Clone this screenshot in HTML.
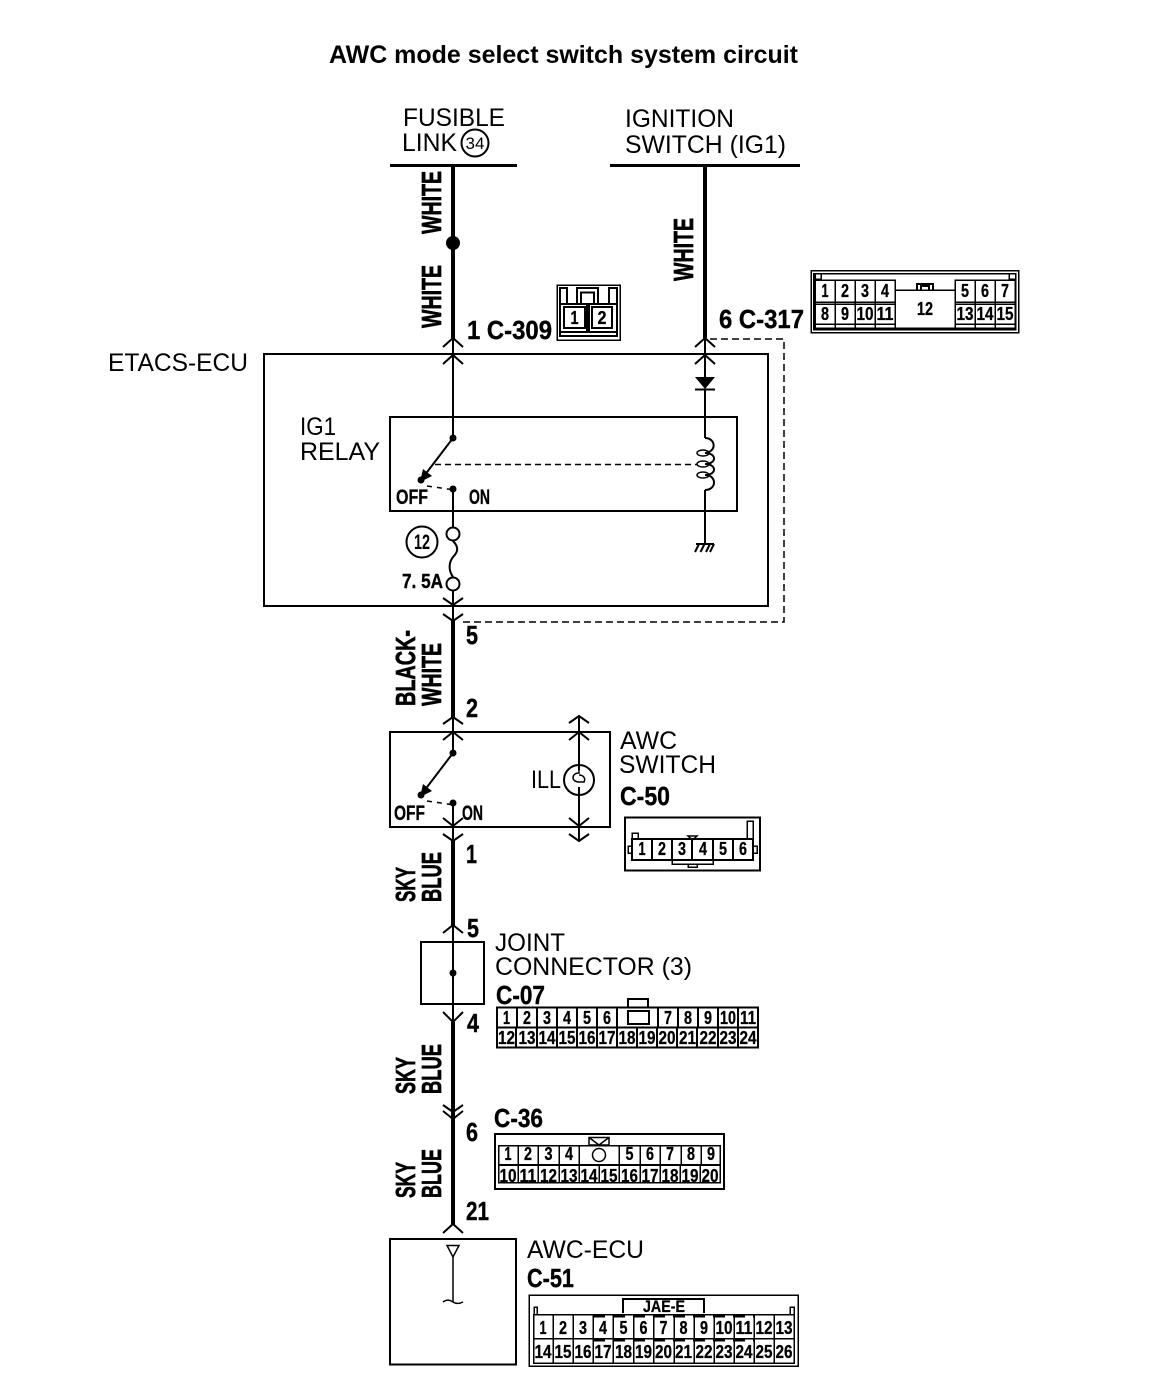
<!DOCTYPE html>
<html><head><meta charset="utf-8"><title>AWC mode select switch system circuit</title>
<style>
html,body{margin:0;padding:0;background:#fff}
svg{display:block}
text{font-family:"Liberation Sans",sans-serif;fill:#000}
.r{font-size:25px}
.b{font-weight:bold;font-size:26px;stroke:#000;stroke-width:.4}
.w{font-weight:bold;font-size:28px;stroke:#000;stroke-width:.7}
.c{font-weight:bold;font-size:18px;text-anchor:middle;stroke:#000;stroke-width:.3}
.l{fill:none;stroke:#000;stroke-width:2}
.t{fill:none;stroke:#000;stroke-width:1.5}
.k{fill:none;stroke:#000;stroke-width:4}
.x{shape-rendering:crispEdges}
</style></head><body>
<svg width="1152" height="1396" viewBox="0 0 1152 1396" xmlns="http://www.w3.org/2000/svg">
<rect width="1152" height="1396" fill="#fff"/>
<text x="329" y="63" font-weight="bold" font-size="25" textLength="469" lengthAdjust="spacingAndGlyphs">AWC mode select switch system circuit</text>

<!-- top sources -->
<text class="r" x="403" y="126" textLength="102" lengthAdjust="spacingAndGlyphs">FUSIBLE</text>
<text class="r" x="402" y="151" textLength="55" lengthAdjust="spacingAndGlyphs">LINK</text>
<circle cx="475" cy="143" r="13.5" class="l"/>
<text x="475" y="149" font-size="17" text-anchor="middle">34</text>
<text class="r" x="625" y="127" textLength="109" lengthAdjust="spacingAndGlyphs">IGNITION</text>
<text class="r" x="625" y="153" textLength="161" lengthAdjust="spacingAndGlyphs">SWITCH (IG1)</text>
<g class="x"><rect x="390" y="164" width="127" height="3"/><rect x="610" y="164" width="190" height="3"/></g>
<path class="k" d="M453 165V338M705 165V338"/>
<circle cx="453" cy="243" r="7"/>

<!-- vertical wire labels -->
<text class="w" transform="translate(441,234) rotate(-90)" textLength="63" lengthAdjust="spacingAndGlyphs">WHITE</text>
<text class="w" transform="translate(441,328) rotate(-90)" textLength="63" lengthAdjust="spacingAndGlyphs">WHITE</text>
<text class="w" transform="translate(693,281) rotate(-90)" textLength="63" lengthAdjust="spacingAndGlyphs">WHITE</text>
<text class="w" transform="translate(415,706) rotate(-90)" textLength="76" lengthAdjust="spacingAndGlyphs">BLACK-</text>
<text class="w" transform="translate(441,706) rotate(-90)" textLength="63" lengthAdjust="spacingAndGlyphs">WHITE</text>
<text class="w" transform="translate(415,902) rotate(-90)" textLength="35" lengthAdjust="spacingAndGlyphs">SKY</text>
<text class="w" transform="translate(441,902) rotate(-90)" textLength="50" lengthAdjust="spacingAndGlyphs">BLUE</text>
<text class="w" transform="translate(415,1094) rotate(-90)" textLength="37" lengthAdjust="spacingAndGlyphs">SKY</text>
<text class="w" transform="translate(441,1094) rotate(-90)" textLength="50" lengthAdjust="spacingAndGlyphs">BLUE</text>
<text class="w" transform="translate(415,1198) rotate(-90)" textLength="36" lengthAdjust="spacingAndGlyphs">SKY</text>
<text class="w" transform="translate(441,1198) rotate(-90)" textLength="49" lengthAdjust="spacingAndGlyphs">BLUE</text>

<!-- terminal labels -->
<text class="b" x="467" y="339" textLength="85" lengthAdjust="spacingAndGlyphs">1 C-309</text>
<text class="b" x="719" y="328" textLength="85" lengthAdjust="spacingAndGlyphs">6 C-317</text>
<text class="b" x="466" y="644" textLength="12" lengthAdjust="spacingAndGlyphs">5</text>
<text class="b" x="466" y="717" textLength="12" lengthAdjust="spacingAndGlyphs">2</text>
<text class="b" x="466" y="863" textLength="11" lengthAdjust="spacingAndGlyphs">1</text>
<text class="b" x="467" y="937" textLength="12" lengthAdjust="spacingAndGlyphs">5</text>
<text class="b" x="467" y="1032" textLength="12" lengthAdjust="spacingAndGlyphs">4</text>
<text class="b" x="466" y="1141" textLength="12" lengthAdjust="spacingAndGlyphs">6</text>
<text class="b" x="466" y="1220" textLength="23" lengthAdjust="spacingAndGlyphs">21</text>

<!-- ETACS -->
<text class="r" x="108" y="371" textLength="140" lengthAdjust="spacingAndGlyphs">ETACS-ECU</text>
<rect x="264" y="354" width="504" height="252" class="l x"/>
<rect x="390" y="417" width="347" height="94" class="l x"/>
<text class="r" x="300" y="435" textLength="36" lengthAdjust="spacingAndGlyphs">IG1</text>
<text class="r" x="300" y="460" textLength="80" lengthAdjust="spacingAndGlyphs">RELAY</text>

<!-- chevrons top ETACS -->
<path class="l" d="M443 347L453 338L463 347M443 364L453 355L463 364M695 347L705 338L715 347M695 364L705 355L715 364"/>
<path class="l" d="M453 338V438M453 489V527M705 338V377M705 389V438M705 490V545"/>
<path d="M695 377H715L705 389Z"/><path class="l" d="M695 389.500H715"/>
<circle cx="453" cy="438" r="3.500"/>
<path class="l" d="M453 438L421 480"/><path d="M420 482L423 469L432 476Z"/><circle cx="421" cy="480" r="3.500"/>
<path class="t" stroke-dasharray="5 5" d="M427 486L455 490"/>
<circle cx="453" cy="489" r="3.500"/>
<text class="c" style="font-size:21px;text-anchor:start" x="396" y="504" textLength="32" lengthAdjust="spacingAndGlyphs">OFF</text>
<text class="c" style="font-size:21px;text-anchor:start" x="469" y="504" textLength="21" lengthAdjust="spacingAndGlyphs">ON</text>
<path class="t" stroke-dasharray="6 4" d="M435 464.500H697"/>
<!-- coil -->
<path class="l" d="M705 438C716 438 717 452 705 453M705 453C717 453 717 464 705 464M705 464C717 464 717 475 705 475M705 475C717 475 717 490 705 490"/>
<ellipse cx="703" cy="453" rx="6" ry="3" class="t"/><ellipse cx="703" cy="464" rx="6" ry="3" class="t"/><ellipse cx="703" cy="475" rx="6" ry="3" class="t"/>
<!-- ground -->
<path class="l" d="M696 544H714M699 544L695 552M704.500 544L700.500 552M710 544L706 552M714 544L710 552"/>
<!-- fuse -->
<circle cx="422" cy="542" r="15.500" class="l"/>
<text x="422" y="549" font-size="21" font-weight="bold" text-anchor="middle" textLength="16" lengthAdjust="spacingAndGlyphs">12</text>
<circle cx="453" cy="534" r="6.500" class="l"/>
<path class="l" d="M453 541C460 548 457 553 453 557C449 562 448 570 453 577"/>
<circle cx="453" cy="584" r="6.500" class="l"/>
<text class="b" style="font-size:20px" x="402" y="588" textLength="41" lengthAdjust="spacingAndGlyphs">7. 5A</text>
<path class="l" d="M453 591V621M443 598L453 605L463 598M443 614L453 621L463 614"/>
<path class="t" stroke-dasharray="7 4" d="M463 622H784V339H707"/>

<!-- black-white -->
<path class="k" d="M453 621V717"/>
<path class="l" d="M443 724L453 717L463 724M443 740L453 732L463 740M453 717V753"/>

<!-- AWC switch -->
<path class="l x" d="M390 732H610V827H390Z"/>
<circle cx="453" cy="753" r="3.500"/>
<path class="l" d="M453 753L421 795"/><path d="M420 797L423 784L432 791Z"/><circle cx="421" cy="795" r="3.500"/>
<path class="t" stroke-dasharray="5 5" d="M427 801L455 805"/>
<circle cx="453" cy="803" r="3.500"/>
<path class="l" d="M453 803V841M443 818L453 826L463 818M443 834L453 841L463 834"/>
<text class="c" style="font-size:21px;text-anchor:start" x="394" y="820" textLength="31" lengthAdjust="spacingAndGlyphs">OFF</text>
<text class="c" style="font-size:21px;text-anchor:start" x="462" y="820" textLength="21" lengthAdjust="spacingAndGlyphs">ON</text>
<path class="l" d="M569 723L579 716L589 723M569 740L579 732L589 740M579 716V770M579 787V841M569 818L579 826L589 818M569 834L579 841L589 834"/>
<circle cx="579" cy="780" r="15" class="l"/>
<path class="t" d="M579 765V773C571 773 571 782 579 782H584C586 778 583 775 579 775M579 787V795"/>
<text class="r" x="531" y="788" textLength="30" lengthAdjust="spacingAndGlyphs">ILL</text>
<text class="r" x="620" y="749" textLength="57" lengthAdjust="spacingAndGlyphs">AWC</text>
<text class="r" x="619" y="773" textLength="97" lengthAdjust="spacingAndGlyphs">SWITCH</text>
<text class="b" x="620" y="805" textLength="50" lengthAdjust="spacingAndGlyphs">C-50</text>

<!-- C-50 connector -->
<g class="x">
<rect x="625" y="817.500" width="135" height="53" class="l"/>
<path class="l" d="M632 839H753V860H632ZM652 839V860M672 839V860M692 839V860M713 839V860M733 839V860"/>
<path class="t" d="M672 860V864H713V860M688 864V867H697V864M632 839V833H638V839M747 839V821H753V839M632 846H628V853H632M753 846H757V853H753"/>
</g>
<path class="t" d="M688 836H697L692.500 840Z"/>
<text class="c" x="642" y="855" textLength="7" lengthAdjust="spacingAndGlyphs">1</text>
<text class="c" x="662" y="855" textLength="8" lengthAdjust="spacingAndGlyphs">2</text>
<text class="c" x="682" y="855" textLength="8" lengthAdjust="spacingAndGlyphs">3</text>
<text class="c" x="703" y="855" textLength="8" lengthAdjust="spacingAndGlyphs">4</text>
<text class="c" x="723" y="855" textLength="8" lengthAdjust="spacingAndGlyphs">5</text>
<text class="c" x="743" y="855" textLength="8" lengthAdjust="spacingAndGlyphs">6</text>

<!-- wire to joint -->
<path class="k" d="M453 841V925"/>
<path class="l" d="M443 933L453 925L463 933M453 925V1022M443 1012L453 1022L463 1012"/>
<rect x="421" y="942" width="63" height="62" class="l x"/>
<circle cx="453" cy="973" r="3.500"/>
<path class="k" d="M453 1022V1225"/>
<path class="l" d="M443 1105L453 1112L463 1105M443 1111L453 1119L463 1111M443 1233L453 1224L463 1233"/>
<text class="r" x="495" y="951" textLength="70" lengthAdjust="spacingAndGlyphs">JOINT</text>
<text class="r" x="495" y="975" textLength="197" lengthAdjust="spacingAndGlyphs">CONNECTOR (3)</text>
<text class="b" x="496" y="1004" textLength="49" lengthAdjust="spacingAndGlyphs">C-07</text>

<!-- C-07 connector -->
<g class="x">
<rect x="497" y="1007.500" width="261" height="40" class="l"/>
<path class="l" d="M497 1027.500H758"/>
<path class="l" d="M517 1007V1027M537 1007V1027M557 1007V1027M577 1007V1027M597 1007V1027M617 1007V1027M658 1007V1027M678 1007V1027M698 1007V1027M718 1007V1027M738 1007V1027"/>
<path class="l" d="M516 1027V1047M537 1027V1047M557 1027V1047M577 1027V1047M597 1027V1047M617 1027V1047M637 1027V1047M657 1027V1047M677 1027V1047M697 1027V1047M718 1027V1047M738 1027V1047"/>
<path class="l" d="M628 1011H649V1024H628ZM628 1007V999H648V1007"/>
</g>
<text class="c" x="506.500" y="1024" textLength="7" lengthAdjust="spacingAndGlyphs">1</text>
<text class="c" x="527" y="1024" textLength="8" lengthAdjust="spacingAndGlyphs">2</text>
<text class="c" x="547" y="1024" textLength="8" lengthAdjust="spacingAndGlyphs">3</text>
<text class="c" x="567" y="1024" textLength="8" lengthAdjust="spacingAndGlyphs">4</text>
<text class="c" x="587" y="1024" textLength="8" lengthAdjust="spacingAndGlyphs">5</text>
<text class="c" x="607" y="1024" textLength="8" lengthAdjust="spacingAndGlyphs">6</text>
<text class="c" x="668" y="1024" textLength="8" lengthAdjust="spacingAndGlyphs">7</text>
<text class="c" x="688" y="1024" textLength="8" lengthAdjust="spacingAndGlyphs">8</text>
<text class="c" x="708" y="1024" textLength="8" lengthAdjust="spacingAndGlyphs">9</text>
<text class="c" x="728" y="1024" textLength="16" lengthAdjust="spacingAndGlyphs">10</text>
<text class="c" x="748" y="1024" textLength="16" lengthAdjust="spacingAndGlyphs">11</text>
<text class="c" x="506.500" y="1044" textLength="17" lengthAdjust="spacingAndGlyphs">12</text>
<text class="c" x="527" y="1044" textLength="17" lengthAdjust="spacingAndGlyphs">13</text>
<text class="c" x="547" y="1044" textLength="17" lengthAdjust="spacingAndGlyphs">14</text>
<text class="c" x="567" y="1044" textLength="17" lengthAdjust="spacingAndGlyphs">15</text>
<text class="c" x="587" y="1044" textLength="17" lengthAdjust="spacingAndGlyphs">16</text>
<text class="c" x="607" y="1044" textLength="17" lengthAdjust="spacingAndGlyphs">17</text>
<text class="c" x="627" y="1044" textLength="17" lengthAdjust="spacingAndGlyphs">18</text>
<text class="c" x="647" y="1044" textLength="17" lengthAdjust="spacingAndGlyphs">19</text>
<text class="c" x="667" y="1044" textLength="17" lengthAdjust="spacingAndGlyphs">20</text>
<text class="c" x="687.500" y="1044" textLength="17" lengthAdjust="spacingAndGlyphs">21</text>
<text class="c" x="708" y="1044" textLength="17" lengthAdjust="spacingAndGlyphs">22</text>
<text class="c" x="728" y="1044" textLength="17" lengthAdjust="spacingAndGlyphs">23</text>
<text class="c" x="748" y="1044" textLength="17" lengthAdjust="spacingAndGlyphs">24</text>

<!-- C-36 -->
<text class="b" x="494" y="1127" textLength="49" lengthAdjust="spacingAndGlyphs">C-36</text>
<g class="x">
<rect x="495" y="1134" width="229" height="55" class="l"/>
<rect x="498.500" y="1145.500" width="221.500" height="37" class="t"/>
<path class="l" d="M498 1165H720"/>
<path class="t" d="M518 1145V1165M538 1145V1165M559 1145V1165M579 1145V1165M619 1145V1165M640 1145V1165M660 1145V1165M681 1145V1165M701 1145V1165"/>
<path class="t" d="M518 1165V1183M538 1165V1183M559 1165V1183M579 1165V1183M599 1165V1183M619 1165V1183M640 1165V1183M660 1165V1183M680 1165V1183M700 1165V1183"/>
</g>
<path class="t" d="M589 1137.500H609V1145H589ZM589 1137.500L599 1145L609 1137.500"/>
<circle cx="599" cy="1155" r="6.500" class="t"/>
<text class="c" x="508" y="1160" textLength="7" lengthAdjust="spacingAndGlyphs">1</text>
<text class="c" x="528" y="1160" textLength="8" lengthAdjust="spacingAndGlyphs">2</text>
<text class="c" x="548.500" y="1160" textLength="8" lengthAdjust="spacingAndGlyphs">3</text>
<text class="c" x="569" y="1160" textLength="8" lengthAdjust="spacingAndGlyphs">4</text>
<text class="c" x="629.500" y="1160" textLength="8" lengthAdjust="spacingAndGlyphs">5</text>
<text class="c" x="650" y="1160" textLength="8" lengthAdjust="spacingAndGlyphs">6</text>
<text class="c" x="670" y="1160" textLength="8" lengthAdjust="spacingAndGlyphs">7</text>
<text class="c" x="691" y="1160" textLength="8" lengthAdjust="spacingAndGlyphs">8</text>
<text class="c" x="711" y="1160" textLength="8" lengthAdjust="spacingAndGlyphs">9</text>
<text class="c" x="508" y="1182" textLength="17" lengthAdjust="spacingAndGlyphs">10</text>
<text class="c" x="528" y="1182" textLength="17" lengthAdjust="spacingAndGlyphs">11</text>
<text class="c" x="548.500" y="1182" textLength="17" lengthAdjust="spacingAndGlyphs">12</text>
<text class="c" x="569" y="1182" textLength="17" lengthAdjust="spacingAndGlyphs">13</text>
<text class="c" x="589" y="1182" textLength="17" lengthAdjust="spacingAndGlyphs">14</text>
<text class="c" x="609" y="1182" textLength="17" lengthAdjust="spacingAndGlyphs">15</text>
<text class="c" x="629.500" y="1182" textLength="17" lengthAdjust="spacingAndGlyphs">16</text>
<text class="c" x="650" y="1182" textLength="17" lengthAdjust="spacingAndGlyphs">17</text>
<text class="c" x="670" y="1182" textLength="17" lengthAdjust="spacingAndGlyphs">18</text>
<text class="c" x="690" y="1182" textLength="17" lengthAdjust="spacingAndGlyphs">19</text>
<text class="c" x="710" y="1182" textLength="17" lengthAdjust="spacingAndGlyphs">20</text>

<!-- AWC-ECU -->
<rect x="390" y="1239" width="126" height="125.500" class="l x"/>
<path class="t" d="M447 1245.500H459L453 1257ZM453 1257V1302"/>
<path class="t" d="M443 1302C447 1299 450 1300 453 1302C456 1304 459 1304 463 1302"/>
<text class="r" x="527" y="1258" textLength="117" lengthAdjust="spacingAndGlyphs">AWC-ECU</text>
<text class="b" x="527" y="1287" textLength="47" lengthAdjust="spacingAndGlyphs">C-51</text>
<g class="x">
<rect x="529" y="1295" width="269" height="71" class="t"/>
<path class="l" d="M623 1313V1299H704V1313"/>
<rect x="533.500" y="1314.500" width="260.500" height="48.500" class="t"/>
<path class="t" d="M533 1338.500H794"/>
<path class="t" d="M553 1314V1363M573 1314V1363M593 1314V1363M613 1314V1363M633.500 1314V1363M653.500 1314V1363M674 1314V1363M694 1314V1363M714 1314V1363M734 1314V1363M754 1314V1363M774 1314V1363"/>
<path class="t" d="M534 1314V1307H537V1314M790 1314V1307H794V1314"/>
<path class="l" stroke-dasharray="12 8" d="M593 1316.500H755M593 1340.500H755"/>
</g>
<text class="c" style="font-size:17px" x="664" y="1312" textLength="42" lengthAdjust="spacingAndGlyphs">JAE-E</text>
<text class="c" x="543" y="1334" textLength="7" lengthAdjust="spacingAndGlyphs">1</text>
<text class="c" x="563" y="1334" textLength="8" lengthAdjust="spacingAndGlyphs">2</text>
<text class="c" x="583" y="1334" textLength="8" lengthAdjust="spacingAndGlyphs">3</text>
<text class="c" x="603" y="1334" textLength="8" lengthAdjust="spacingAndGlyphs">4</text>
<text class="c" x="623.500" y="1334" textLength="8" lengthAdjust="spacingAndGlyphs">5</text>
<text class="c" x="643.500" y="1334" textLength="8" lengthAdjust="spacingAndGlyphs">6</text>
<text class="c" x="663.500" y="1334" textLength="8" lengthAdjust="spacingAndGlyphs">7</text>
<text class="c" x="683.500" y="1334" textLength="8" lengthAdjust="spacingAndGlyphs">8</text>
<text class="c" x="704" y="1334" textLength="8" lengthAdjust="spacingAndGlyphs">9</text>
<text class="c" x="724" y="1334" textLength="17" lengthAdjust="spacingAndGlyphs">10</text>
<text class="c" x="744" y="1334" textLength="17" lengthAdjust="spacingAndGlyphs">11</text>
<text class="c" x="764" y="1334" textLength="17" lengthAdjust="spacingAndGlyphs">12</text>
<text class="c" x="784" y="1334" textLength="17" lengthAdjust="spacingAndGlyphs">13</text>
<text class="c" x="543" y="1358" textLength="17" lengthAdjust="spacingAndGlyphs">14</text>
<text class="c" x="563" y="1358" textLength="17" lengthAdjust="spacingAndGlyphs">15</text>
<text class="c" x="583" y="1358" textLength="17" lengthAdjust="spacingAndGlyphs">16</text>
<text class="c" x="603" y="1358" textLength="17" lengthAdjust="spacingAndGlyphs">17</text>
<text class="c" x="623.500" y="1358" textLength="17" lengthAdjust="spacingAndGlyphs">18</text>
<text class="c" x="643.500" y="1358" textLength="17" lengthAdjust="spacingAndGlyphs">19</text>
<text class="c" x="663.500" y="1358" textLength="17" lengthAdjust="spacingAndGlyphs">20</text>
<text class="c" x="683.500" y="1358" textLength="17" lengthAdjust="spacingAndGlyphs">21</text>
<text class="c" x="704" y="1358" textLength="17" lengthAdjust="spacingAndGlyphs">22</text>
<text class="c" x="724" y="1358" textLength="17" lengthAdjust="spacingAndGlyphs">23</text>
<text class="c" x="744" y="1358" textLength="17" lengthAdjust="spacingAndGlyphs">24</text>
<text class="c" x="764" y="1358" textLength="17" lengthAdjust="spacingAndGlyphs">25</text>
<text class="c" x="784" y="1358" textLength="17" lengthAdjust="spacingAndGlyphs">26</text>

<!-- C-309 connector -->
<g class="x">
<rect x="557" y="285" width="63" height="55" class="t"/>
<path class="l" d="M560 304V288H567V304M609 304V288H617V304"/>
<path class="l" d="M577 304V288H598V304M581 304V292.500H594V304"/>
<path class="l" d="M560 304H587V332H560ZM589 304H617V332H589ZM560 332V336H617V332"/>
<rect x="564" y="307" width="21" height="21" class="l"/>
<rect x="592" y="307" width="20" height="21" class="l"/>
</g>
<text class="c" x="574.500" y="324" textLength="8" lengthAdjust="spacingAndGlyphs">1</text>
<text class="c" x="602" y="324" textLength="9" lengthAdjust="spacingAndGlyphs">2</text>

<!-- C-317 connector -->
<g class="x">
<rect x="811" y="270.500" width="207.500" height="62" class="t"/>
<rect x="813.500" y="273.500" width="202" height="56" class="t"/>
<path class="t" d="M815 280H895V290H955V280H1015M815 302H895M955 302H1015M815 304H895M955 304H1015M815 324H895M955 324H1015M814 328H1015"/>
<path class="t" d="M815 280V328M835 280V328M855 280V328M875 280V328M895 280V328M955 280V328M975 280V328M995 280V328M1015 280V328"/>
<path class="t" d="M815 273V279H821V273M1009 273V279H1015"/>
<path class="l" d="M917 290V284H933V290M921 290V286H929V290"/>
</g>
<text class="c" x="825" y="297" textLength="7" lengthAdjust="spacingAndGlyphs">1</text>
<text class="c" x="845" y="297" textLength="8" lengthAdjust="spacingAndGlyphs">2</text>
<text class="c" x="865" y="297" textLength="8" lengthAdjust="spacingAndGlyphs">3</text>
<text class="c" x="885" y="297" textLength="8" lengthAdjust="spacingAndGlyphs">4</text>
<text class="c" x="965" y="297" textLength="8" lengthAdjust="spacingAndGlyphs">5</text>
<text class="c" x="985" y="297" textLength="8" lengthAdjust="spacingAndGlyphs">6</text>
<text class="c" x="1005" y="297" textLength="8" lengthAdjust="spacingAndGlyphs">7</text>
<text class="c" x="825" y="320" textLength="8" lengthAdjust="spacingAndGlyphs">8</text>
<text class="c" x="845" y="320" textLength="8" lengthAdjust="spacingAndGlyphs">9</text>
<text class="c" x="865" y="320" textLength="17" lengthAdjust="spacingAndGlyphs">10</text>
<text class="c" x="885" y="320" textLength="17" lengthAdjust="spacingAndGlyphs">11</text>
<text class="c" x="925" y="315" textLength="16" lengthAdjust="spacingAndGlyphs">12</text>
<text class="c" x="965" y="320" textLength="17" lengthAdjust="spacingAndGlyphs">13</text>
<text class="c" x="985" y="320" textLength="17" lengthAdjust="spacingAndGlyphs">14</text>
<text class="c" x="1005" y="320" textLength="17" lengthAdjust="spacingAndGlyphs">15</text>
</svg>
</body></html>
